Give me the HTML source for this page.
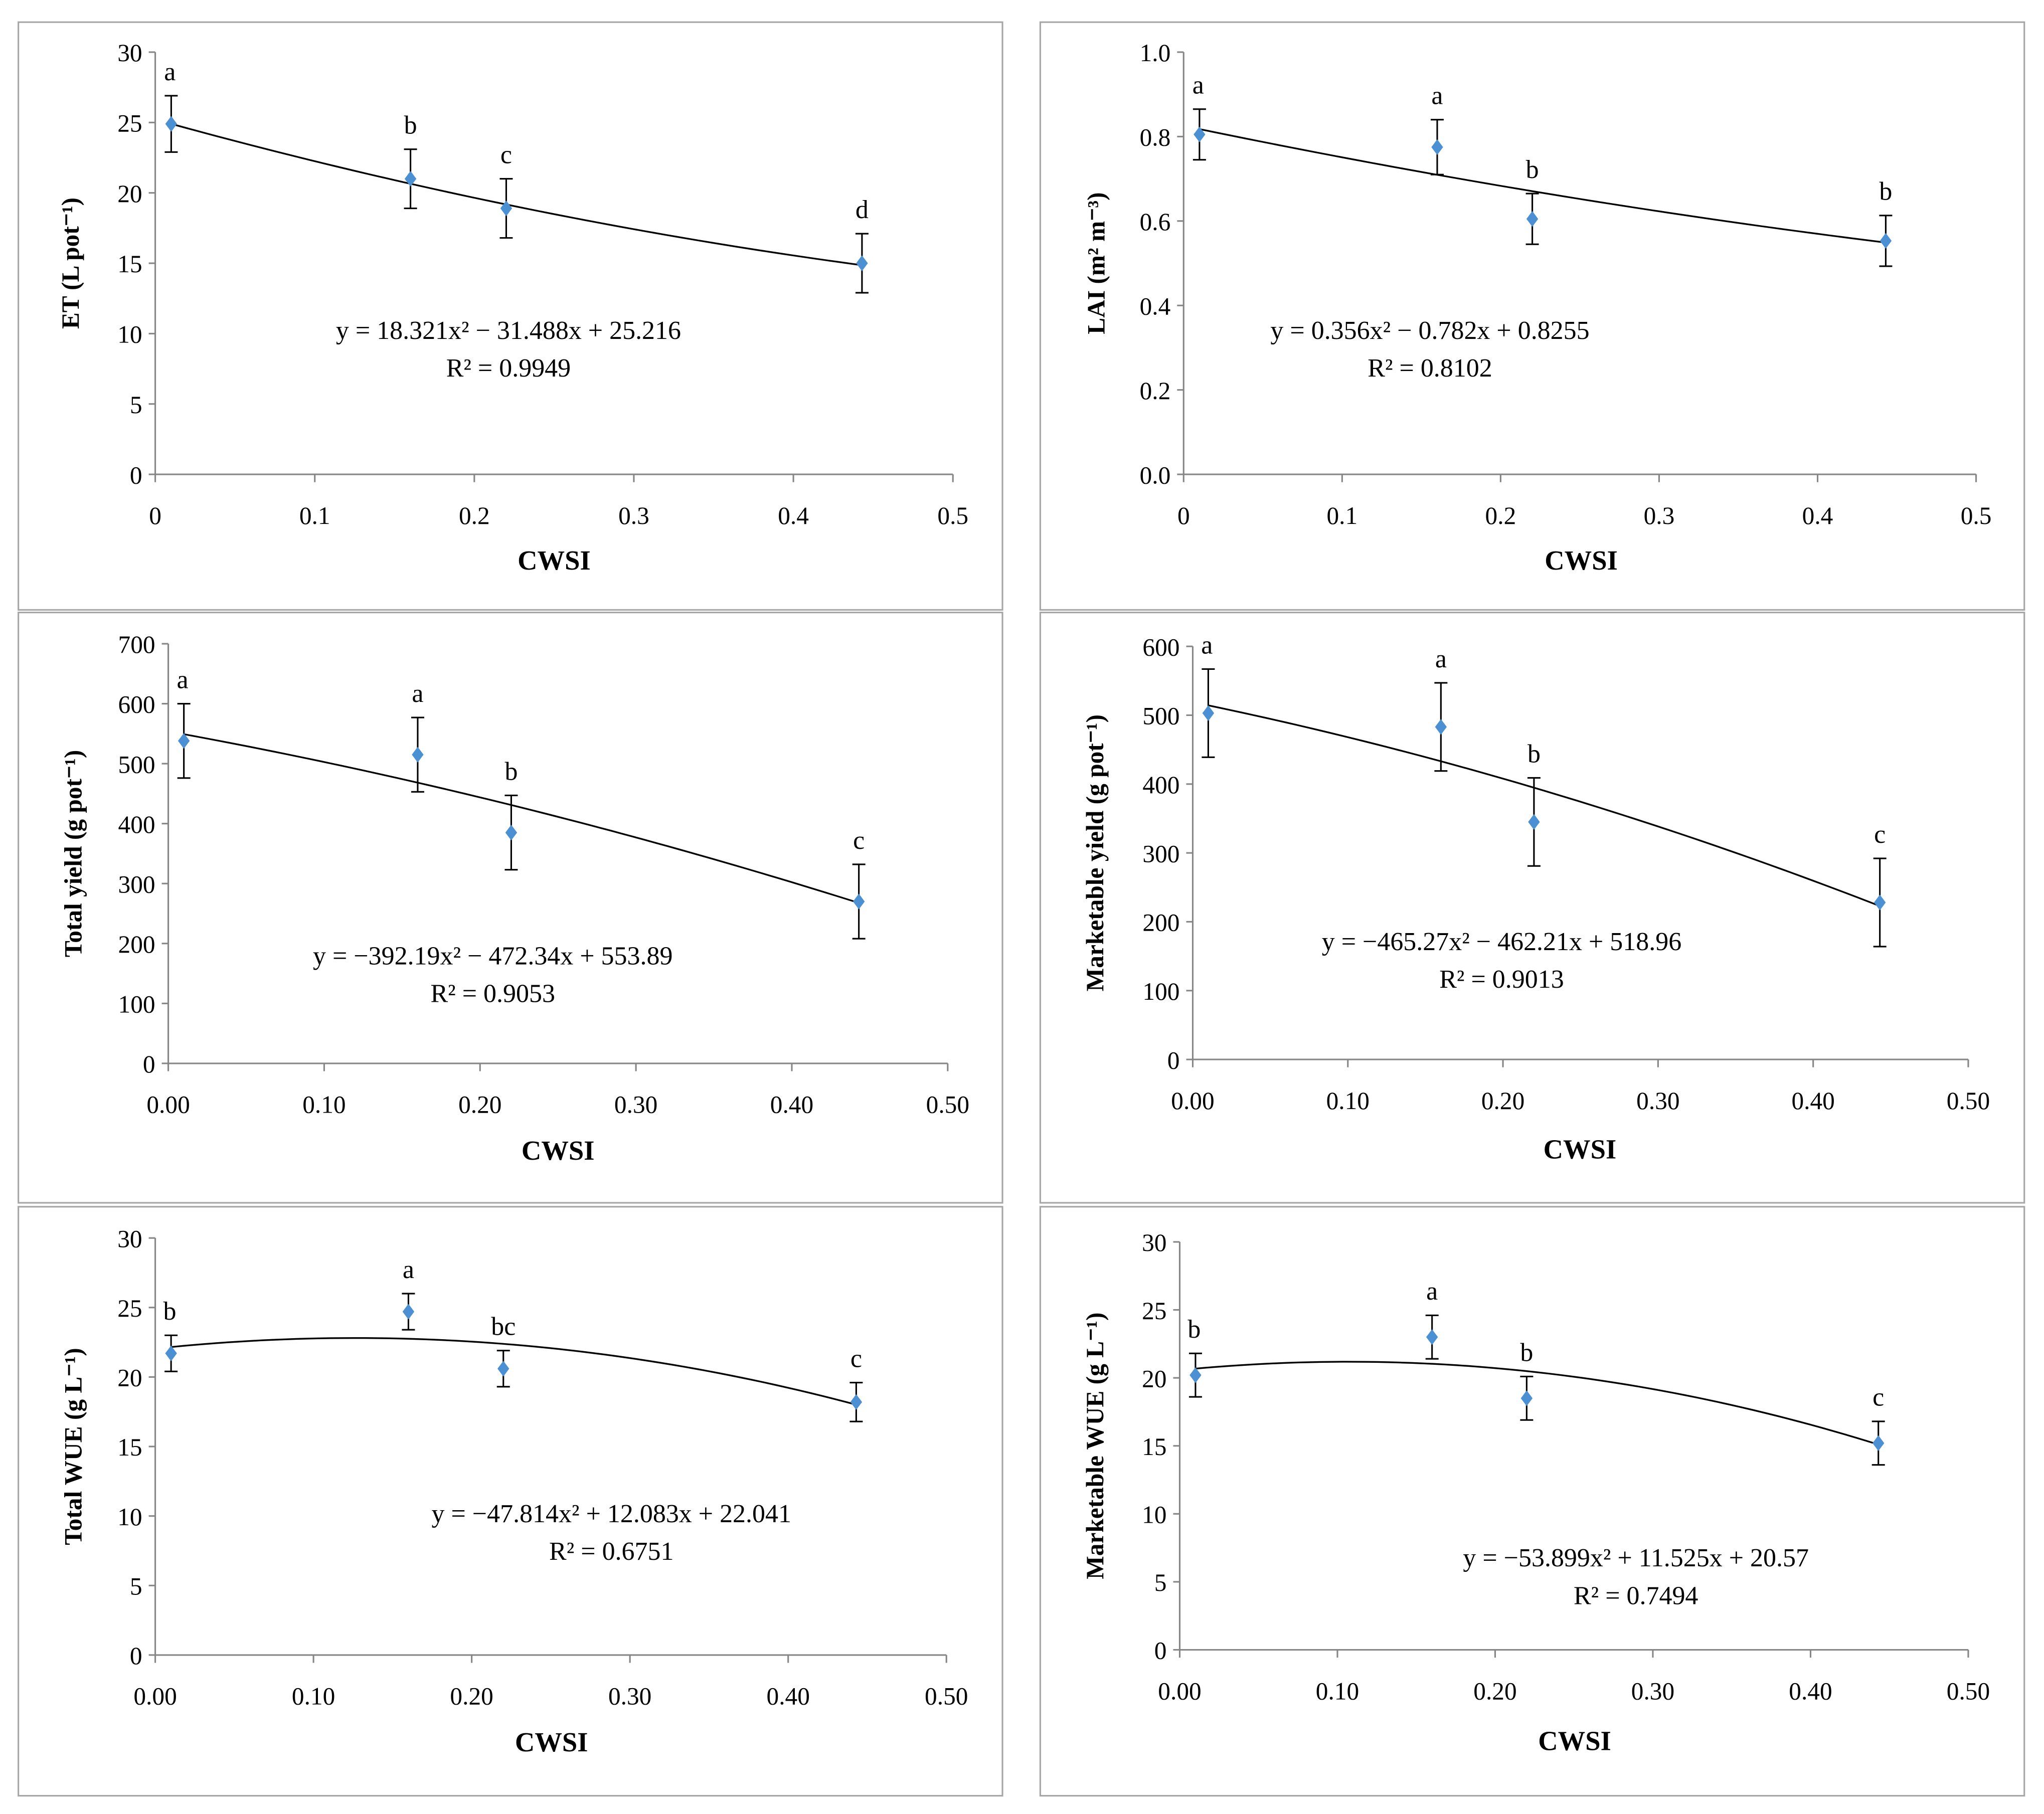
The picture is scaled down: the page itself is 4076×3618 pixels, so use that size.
<!DOCTYPE html>
<html><head><meta charset="utf-8"><style>
html,body{margin:0;padding:0;background:#fff}
svg{display:block}
text{font-family:"Liberation Serif",serif;fill:#000}
</style></head><body>
<svg id="chart" width="4076" height="3618" viewBox="0 0 1568 1392" xmlns="http://www.w3.org/2000/svg"></svg>
<script>
const cwsi = [0.01, 0.16, 0.22, 0.443];
const etMeans = [24.9, 21.0, 18.9, 15.0];
const laiMeans = [0.805, 0.775, 0.605, 0.553];
const totalYieldMeans = [538, 515, 385, 270];
const mktYieldMeans = [503, 483, 345, 228];
const totalWueMeans = [21.7, 24.7, 20.6, 18.2];
const mktWueMeans = [20.2, 23.0, 18.5, 15.2];
const etErr = [2.0, 2.1, 2.1, 2.1];
const laiErr = [0.06, 0.065, 0.06, 0.06];
const totalYieldErr = [62, 62, 62, 62];
const mktYieldErr = [64, 64, 64, 64];
const totalWueErr = [1.3, 1.3, 1.3, 1.4];
const mktWueErr = [1.6, 1.6, 1.6, 1.6];
const etLetters = ['a','b','c','d'];
const laiLetters = ['a','a','b','b'];
const tyLetters = ['a','a','b','c'];
const myLetters = ['a','a','b','c'];
const twLetters = ['b','a','bc','c'];
const mwLetters = ['b','a','b','c'];
const xTicks1 = ['0','0.1','0.2','0.3','0.4','0.5'];
const xTicks2 = ['0.00','0.10','0.20','0.30','0.40','0.50'];

const panels = [
 {name:'et',box:[14,17,755,451],x0:119,x1:731,yTop:40,yBot:364,yMax:30,yStep:5,yDec:0,xt:xTicks1,means:etMeans,err:etErr,let:etLetters,coef:[18.321,-31.488,25.216],eq:'y = 18.321x² − 31.488x + 25.216',r2:'R² = 0.9949',eqx:390,eqy:253,title:'ET (L pot⁻¹)',ytx:56,xl:425,xly:430},
 {name:'lai',box:[798,17,755,451],x0:908,x1:1516,yTop:40,yBot:364,yMax:1.0,yStep:0.2,yDec:1,xt:xTicks1,means:laiMeans,err:laiErr,let:laiLetters,coef:[0.356,-0.782,0.8255],eq:'y = 0.356x² − 0.782x + 0.8255',r2:'R² = 0.8102',eqx:1097,eqy:253,title:'LAI (m² m⁻³)',ytx:843,xl:1213,xly:430},
 {name:'total-yield',box:[14,470,755,453],x0:129,x1:727,yTop:494,yBot:816,yMax:700,yStep:100,yDec:0,xt:xTicks2,means:totalYieldMeans,err:totalYieldErr,let:tyLetters,coef:[-392.19,-472.34,553.89],eq:'y = −392.19x² − 472.34x + 553.89',r2:'R² = 0.9053',eqx:378,eqy:733,title:'Total yield (g pot⁻¹)',ytx:58,xl:428,xly:883},
 {name:'marketable-yield',box:[798,470,755,453],x0:915,x1:1510,yTop:496,yBot:813,yMax:600,yStep:100,yDec:0,xt:xTicks2,means:mktYieldMeans,err:mktYieldErr,let:myLetters,coef:[-465.27,-462.21,518.96],eq:'y = −465.27x² − 462.21x + 518.96',r2:'R² = 0.9013',eqx:1152,eqy:722,title:'Marketable yield (g pot⁻¹)',ytx:842,xl:1212,xly:882},
 {name:'total-wue',box:[14,926,755,452],x0:119,x1:726,yTop:950,yBot:1270,yMax:30,yStep:5,yDec:0,xt:xTicks2,means:totalWueMeans,err:totalWueErr,let:twLetters,coef:[-47.814,12.083,22.041],eq:'y = −47.814x² + 12.083x + 22.041',r2:'R² = 0.6751',eqx:469,eqy:1161,title:'Total WUE (g L⁻¹)',ytx:58,xl:423,xly:1337},
 {name:'marketable-wue',box:[798,926,755,452],x0:905,x1:1510,yTop:953,yBot:1266,yMax:30,yStep:5,yDec:0,xt:xTicks2,means:mktWueMeans,err:mktWueErr,let:mwLetters,coef:[-53.899,11.525,20.57],eq:'y = −53.899x² + 11.525x + 20.57',r2:'R² = 0.7494',eqx:1255,eqy:1195,title:'Marketable WUE (g L⁻¹)',ytx:842,xl:1208,xly:1336}
];
const NS='http://www.w3.org/2000/svg';
const svg=document.getElementById('chart');
function mk(tag,attrs,parent,txt){const e=document.createElementNS(NS,tag);for(const k in attrs)e.setAttribute(k,attrs[k]);if(txt!==undefined)e.textContent=txt;parent.appendChild(e);return e;}
panels.forEach(p=>{
 const g=mk('g',{},svg);
 
 
 const fr=mk('rect',{x:p.box[0],y:p.box[1],width:p.box[2],height:p.box[3],fill:'#fff',stroke:'#a6a6a6','stroke-width':1.2},g);
 
 
 const xs=v=>p.x0+(v/0.5)*(p.x1-p.x0);
 const ys=v=>p.yBot-(v/p.yMax)*(p.yBot-p.yTop);
 const ax=mk('path',{d:`M${p.x0},${p.yTop}V${p.yBot}H${p.x1}`,stroke:'#868686','stroke-width':1.2,fill:'none'},g);
 
 
 const n=Math.round(p.yMax/p.yStep);
 for(let i=0;i<=n;i++){const v=i*p.yStep,y=ys(v);
  mk('line',{x1:p.x0-5,x2:p.x0,y1:y,y2:y,stroke:'#868686','stroke-width':1.2},g);
  const t=mk('text',{x:p.x0-10,y:y+7,'text-anchor':'end','font-size':19},g,v.toFixed(p.yDec));
  
  }
 p.xt.forEach((lab,i)=>{const x=xs(i*0.1);
  mk('line',{x1:x,x2:x,y1:p.yBot,y2:p.yBot+6,stroke:'#868686','stroke-width':1.2},g);
  const t=mk('text',{x:x,y:p.yBot+38,'text-anchor':'middle','font-size':19},g,lab);
  
  });
 const xt=mk('text',{x:p.xl,y:p.xly+7,'text-anchor':'middle','font-size':21,'font-weight':'bold'},g,'CWSI');
 
 
 const cy=(p.yTop+p.yBot)/2;
 const yt=mk('text',{x:p.ytx,y:cy,'text-anchor':'middle','font-size':19,'font-weight':'bold',transform:`rotate(-90 ${p.ytx} ${cy})`,'dominant-baseline':'middle'},g,p.title);
 
 
 let d='';const a=p.coef;
 for(let i=0;i<=60;i++){const x=cwsi[0]+(cwsi[3]-cwsi[0])*i/60;const y=a[0]*x*x+a[1]*x+a[2];d+=(i?'L':'M')+xs(x).toFixed(2)+','+ys(y).toFixed(2);}
 const tl=mk('path',{d:d,stroke:'#000','stroke-width':1.3,fill:'none'},g);
 
 
 cwsi.forEach((c,i)=>{
  const x=xs(c),y=ys(p.means[i]),yt2=ys(p.means[i]+p.err[i]),yb=ys(p.means[i]-p.err[i]);
  const eb=mk('path',{d:`M${x},${yt2}V${yb}M${x-5},${yt2}H${x+5}M${x-5},${yb}H${x+5}`,stroke:'#000','stroke-width':1.2,fill:'none'},g);
  
  
  const pt=mk('path',{d:`M${x},${y-6}L${x+4.5},${y}L${x},${y+6}L${x-4.5},${y}Z`,fill:'#4a90d2'},g);
  
  
  const lt=mk('text',{x:x+(i===0?-1:0),y:yt2-12,'text-anchor':'middle','font-size':20},g,p.let[i]);
  
  
 });
 const eq=mk('text',{x:p.eqx,y:p.eqy+7,'text-anchor':'middle','font-size':20},g,p.eq);
 
 
 const r2=mk('text',{x:p.eqx,y:p.eqy+36,'text-anchor':'middle','font-size':20},g,p.r2);
 
 
});
</script>
</body></html>
